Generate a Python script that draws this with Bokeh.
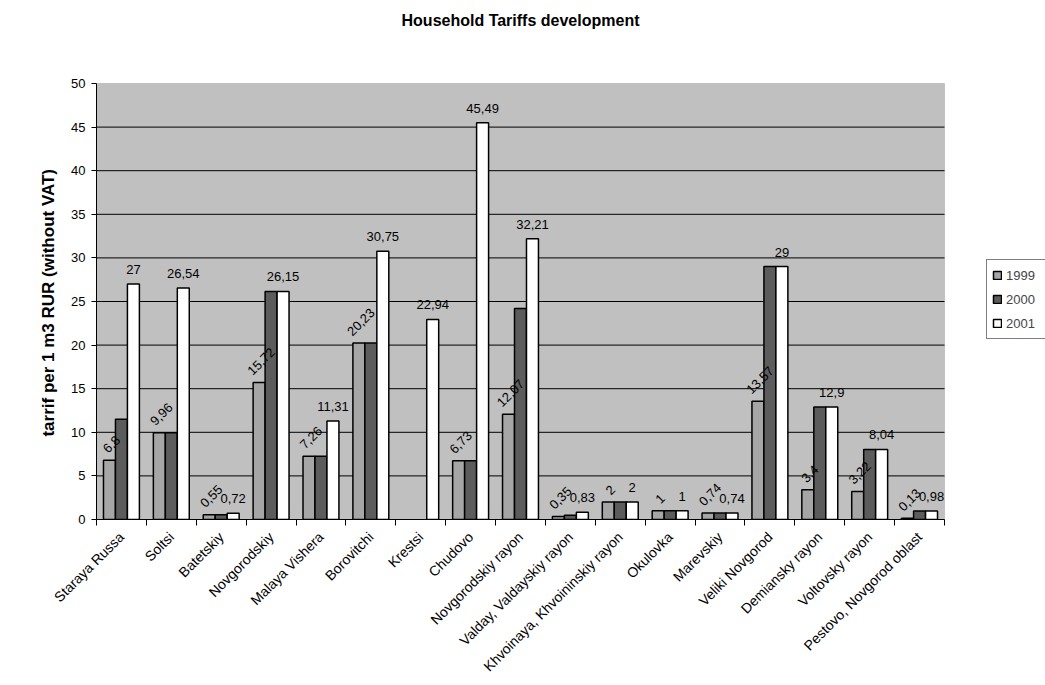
import math
from bokeh.plotting import figure
from bokeh.models import (ColumnDataSource, FixedTicker, Legend, LegendItem, Range1d,
                          BoxAnnotation, Label, Title)
from bokeh.core.properties import value
from bokeh.embed import file_html
from bokeh.resources import INLINE

nan = float("nan")

categories = ["Staraya Russa", "Soltsi", "Batetskiy", "Novgorodskiy", "Malaya Vishera",
              "Borovitchi", "Krestsi", "Chudovo", "Novgorodskiy rayon",
              "Valday, Valdayskiy rayon", "Khvoinaya, Khvoininskiy rayon", "Okulovka",
              "Marevskiy", "Veliki Novgorod", "Demiansky rayon", "Voltovsky rayon",
              "Pestovo, Novgorod oblast"]
years = ["1999", "2000", "2001"]
v1999 = [6.8, 9.96, 0.55, 15.72, 7.26, 20.23, nan, 6.73, 12.07, 0.35, 2, 1, 0.74, 13.57, 3.4, 3.22, 0.13]
v2000 = [11.5, 9.96, 0.55, 26.15, 7.26, 20.23, nan, 6.73, 24.2, 0.5, 2, 1, 0.74, 29, 12.9, 8.04, 0.98]
v2001 = [27, 26.54, 0.72, 26.15, 11.31, 30.75, 22.94, 45.49, 32.21, 0.83, 2, 1, 0.74, 29, 12.9, 8.04, 0.98]
y_ticks = [0, 5, 10, 15, 20, 25, 30, 35, 40, 45, 50]
title_text = "Household Tariffs development"
y_title = "tarrif per 1 m3 RUR (without VAT)"

FONT = "Liberation Sans"
FS = 13
colors = ["#A6A6A6", "#5C5C5C", "#FFFFFF"]
bar_w = 0.24
offsets = [-bar_w, 0.0, bar_w]

n = len(categories)
idx = list(range(n))
ymin, ymax = y_ticks[0], y_ticks[-1]

# layout geometry (pixels)
W, H = 1045, 685
LEFT, BOTTOM = 96, 166
PLOT_W, PLOT_H = 848, 436          # gray plot area size
FRAME_W, FRAME_H = W - LEFT, H - BOTTOM
px_x = PLOT_W / n
px_y = PLOT_H / (ymax - ymin)
x0 = -0.5
x_end = x0 + FRAME_W / px_x
y_end = ymin + FRAME_H / px_y

p = figure(width=W, height=H, output_backend="svg", toolbar_location=None,
           x_range=Range1d(x0, x_end), y_range=Range1d(ymin, y_end),
           min_border_left=LEFT, min_border_right=0, min_border_top=0, min_border_bottom=BOTTOM,
           background_fill_color="white", border_fill_color="white",
           outline_line_color=None)

# gray plot area
p.add_layout(BoxAnnotation(left=x0, right=x0 + n, bottom=ymin, top=ymax,
                           fill_color="#C0C0C0", fill_alpha=1, line_color="#808080",
                           line_width=1, level="underlay"))

# grid lines limited to the plot area
gy = [t for t in y_ticks if ymin < t < ymax]
p.segment(x0=[x0] * len(gy), x1=[x0 + n] * len(gy), y0=gy, y1=gy,
          line_color="black", line_width=1)

renderers = []
for vals, off, col in zip([v1999, v2000, v2001], offsets, colors):
    src = ColumnDataSource(dict(x=[i + off for i in idx], top=vals))
    r = p.vbar(x="x", top="top", width=bar_w, source=src, fill_color=col,
               line_color="black", line_width=1.5)
    renderers.append(r)

def fmt(v):
    return ("%g" % v).replace(".", ",")

def text_w(s, fs=FS):
    w = 0
    for ch in s:
        w += 0.278 if ch == "," else 0.556
    return w * fs

# 1999 rotated labels
lx, ly, lt, lo = [], [], [], []
for i, v in enumerate(v1999):
    if not math.isnan(v):
        s = fmt(v)
        lx.append(i + offsets[0])
        ly.append(v)
        lt.append(s)
        lo.append(-(5 + (text_w(s) + FS) / (2 * math.sqrt(2))))
src1 = ColumnDataSource(dict(x=lx, y=ly, t=lt, yo=lo))
p.text(x="x", y="y", text="t", source=src1, angle=math.pi / 4, x_offset=2, y_offset="yo",
       text_align="center", text_baseline="middle", text_font=value(FONT),
       text_font_size="%dpx" % FS, text_color="black")

# 2001 horizontal labels
src3 = ColumnDataSource(dict(x=[i + offsets[2] for i in idx], y=v2001, t=[fmt(v) for v in v2001]))
p.text(x="x", y="y", text="t", source=src3, y_offset=-10,
       text_align="center", text_baseline="bottom", text_font=value(FONT),
       text_font_size="%dpx" % FS, text_color="black")

# title as label in top of frame
p.add_layout(Label(x=x0 + n / 2, y=ymin + (FRAME_H - 20) / px_y, text=title_text,
                   text_align="center", text_baseline="middle", text_font=FONT,
                   text_font_size="16px", text_font_style="bold", text_color="black"))

# axes
p.xaxis.ticker = FixedTicker(ticks=idx, minor_ticks=[i - 0.5 for i in range(n + 1)])
p.xaxis.bounds = (x0, x0 + n)
p.xaxis.major_label_overrides = {i: c for i, c in enumerate(categories)}
p.xaxis.major_label_orientation = math.pi / 4
p.xaxis.major_tick_line_color = None
p.xaxis.minor_tick_out = 6
p.xaxis.minor_tick_in = 0
p.xaxis.minor_tick_line_color = "black"
p.xaxis.axis_line_color = "black"
p.xaxis.major_label_text_font = FONT
p.xaxis.major_label_text_font_size = "14px"
p.xaxis.major_label_text_color = "black"
p.xaxis.major_label_standoff = 9

p.yaxis.ticker = FixedTicker(ticks=y_ticks)
p.yaxis.bounds = (ymin, ymax)
p.yaxis.minor_tick_line_color = None
p.yaxis.major_tick_out = 5
p.yaxis.major_tick_in = 0
p.yaxis.axis_line_color = "black"
p.yaxis.major_label_text_font = FONT
p.yaxis.major_label_text_font_size = "%dpx" % FS
p.yaxis.major_label_text_color = "black"
p.yaxis.major_label_standoff = 6

# y-axis title, centred on the gray plot area (left-aligned along the panel, shifted up)
YT_FS = 17
yt_len = 15.89 * YT_FS
yt_center = FRAME_H - PLOT_H / 2
ytitle = Title(text=y_title, align="left", offset=FRAME_H - (yt_center + yt_len / 2),
               text_font=FONT, text_font_size="%dpx" % YT_FS, text_font_style="bold",
               text_color="black", standoff=22)
p.add_layout(ytitle, "left")

p.xgrid.grid_line_color = None
p.ygrid.grid_line_color = None

legend = Legend(items=[LegendItem(label=y, renderers=[r]) for y, r in zip(years, renderers)],
                location=(890, FRAME_H - 339), orientation="vertical",
                glyph_width=10, glyph_height=10, label_standoff=4, label_width=34,
                label_text_font=FONT, label_text_font_size="%dpx" % FS, label_height=20,
                spacing=4, padding=5, margin=0,
                border_line_color="black", border_line_width=1,
                background_fill_color="white", background_fill_alpha=1)
p.add_layout(legend, "center")

open("out.html", "w").write(file_html(p, INLINE))
